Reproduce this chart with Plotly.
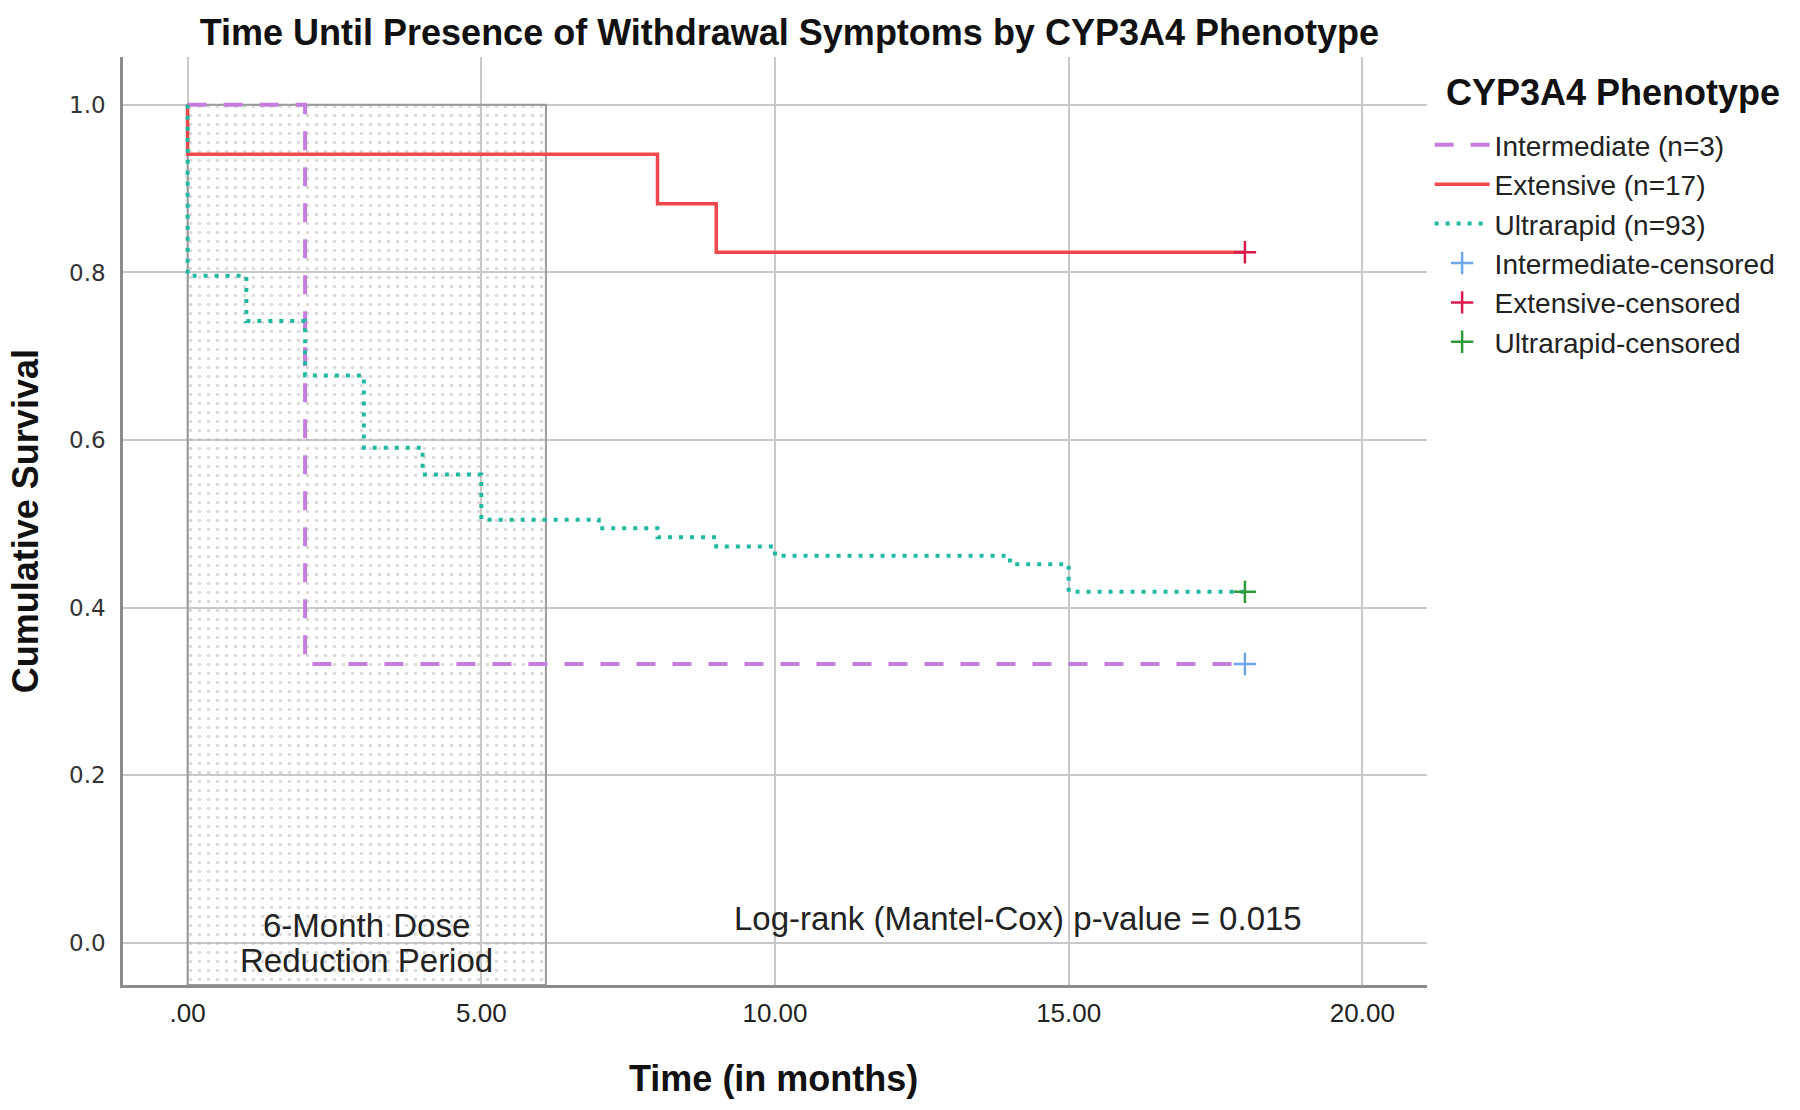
import plotly.graph_objects as go

# ---------------- data ----------------
months_int = [0, 2, 18]
surv_int = [1.0, 0.333, 0.333]

months_ext = [0, 0, 8, 9, 18]
surv_ext = [1.0, 0.941, 0.882, 0.824, 0.824]

months_ult = [0, 0, 1, 2, 3, 4, 5, 7, 8, 9, 10, 14, 15, 18]
surv_ult = [1.0, 0.796, 0.742, 0.677, 0.591, 0.559, 0.505, 0.495, 0.484,
            0.473, 0.462, 0.452, 0.419, 0.419]

censor_time = [18, 18, 18]
censor_surv = [0.333, 0.824, 0.419]

group_names = ["Intermediate (n=3)", "Extensive (n=17)", "Ultrarapid (n=93)"]
censor_names = ["Intermediate-censored", "Extensive-censored", "Ultrarapid-censored"]

x_tick_vals = [0, 5, 10, 15, 20]
x_tick_text = [".00", "5.00", "10.00", "15.00", "20.00"]
y_tick_vals = [0.0, 0.2, 0.4, 0.6, 0.8, 1.0]

period_months = [0, 6.1]      # 6-month dose reduction period (shaded)
period_top = 1.0

x_range = [-1.1, 21.1]
y_range = [-0.05, 1.057]

FONT = "Liberation Sans, Arial, sans-serif"

fig = go.Figure()

# shaded dose-reduction period
px0, px1 = period_months
fig.add_trace(go.Scatter(
    x=[px0, px1, px1, px0, px0],
    y=[y_range[0], y_range[0], period_top, period_top, y_range[0]],
    mode="lines", fill="toself",
    fillcolor="rgba(255,255,255,0)",
    fillpattern=dict(shape=".", fgcolor="#b4b4b4", bgcolor="rgba(255,255,255,0)",
                     size=9, solidity=0.12),
    line=dict(color="#9a9a9a", width=2),
    showlegend=False, hoverinfo="skip"))

fig.add_trace(go.Scatter(
    x=months_int, y=surv_int, mode="lines", line_shape="hv",
    line=dict(color="#c67ede", width=4, dash="19px,17px"),
    name=group_names[0]))
fig.add_trace(go.Scatter(
    x=months_ext, y=surv_ext, mode="lines", line_shape="hv",
    line=dict(color="#f2484b", width=3.5),
    name=group_names[1]))
fig.add_trace(go.Scatter(
    x=months_ult, y=surv_ult, mode="lines", line_shape="hv",
    line=dict(color="#1fb9a2", width=4, dash="4px,7px"),
    name=group_names[2]))

censor_colors = ["#6ea6e8", "#d81b4c", "#2e9a3a"]
for i in range(3):
    fig.add_trace(go.Scatter(
        x=[censor_time[i]], y=[censor_surv[i]], mode="markers",
        marker=dict(symbol="cross-thin", size=16,
                    line=dict(color=censor_colors[i], width=2.5)),
        name=censor_names[i]))

fig.add_annotation(x=(px0 + px1) / 2, y=0.021, xref="x", yref="y",
                   text="6-Month Dose", showarrow=False,
                   font=dict(family=FONT, size=33, color="#222222"))
fig.add_annotation(x=(px0 + px1) / 2, y=-0.021, xref="x", yref="y",
                   text="Reduction Period", showarrow=False,
                   font=dict(family=FONT, size=33, color="#222222"))
fig.add_annotation(x=14.14, y=0.029, xref="x", yref="y",
                   text="Log-rank (Mantel-Cox) p-value = 0.015", showarrow=False,
                   font=dict(family=FONT, size=33, color="#222222"))

fig.add_annotation(x=-0.075, y=0.5, xref="paper", yref="paper",
                   xanchor="center", yanchor="middle",
                   text="<b>Cumulative Survival</b>", textangle=-90, showarrow=False,
                   font=dict(family=FONT, size=36, color="#111111"))
fig.add_annotation(x=0.499, y=-0.101, xref="paper", yref="paper",
                   xanchor="center", yanchor="middle",
                   text="<b>Time (in months)</b>", showarrow=False,
                   font=dict(family=FONT, size=36, color="#111111"))
fig.add_annotation(x=1.013, y=0.962, xref="paper", yref="paper",
                   xanchor="left", yanchor="middle",
                   text="<b>CYP3A4 Phenotype</b>", showarrow=False,
                   font=dict(family=FONT, size=36, color="#111111"))

fig.update_layout(
    width=1800, height=1110,
    margin=dict(l=123, r=373, t=57, b=125),
    paper_bgcolor="white", plot_bgcolor="white",
    title=dict(text="<b>Time Until Presence of Withdrawal Symptoms by CYP3A4 Phenotype</b>",
               xref="paper", x=0.511, xanchor="center", y=1 - 32 / 1110, yanchor="middle",
               font=dict(family=FONT, size=36, color="#111111")),
    legend=dict(x=1.002, xanchor="left", y=0.932, yanchor="top",
                font=dict(family=FONT, size=28, color="#222222"),
                itemwidth=55, bgcolor="rgba(0,0,0,0)", tracegroupgap=0),
    xaxis=dict(range=x_range, tickvals=x_tick_vals, ticktext=x_tick_text,
               showgrid=True, gridcolor="#c8c8c8", gridwidth=2,
               zeroline=False, showline=True, linecolor="#8c8c8c", linewidth=2.5,
               ticks="", ticklabelstandoff=3,
               tickfont=dict(family=FONT, size=26, color="#222222")),
    yaxis=dict(range=y_range, tickvals=y_tick_vals, tickformat=".1f",
               showgrid=True, gridcolor="#c8c8c8", gridwidth=2,
               zeroline=False, showline=True, linecolor="#8c8c8c", linewidth=2.5,
               ticks="", ticklabelstandoff=10,
               tickfont=dict(family="DejaVu Sans, sans-serif", size=23, color="#333333")),
)

fig.write_html("out.html", config={"displayModeBar": False},
               post_script="document.body.style.margin='0';document.body.style.overflow='hidden';")
